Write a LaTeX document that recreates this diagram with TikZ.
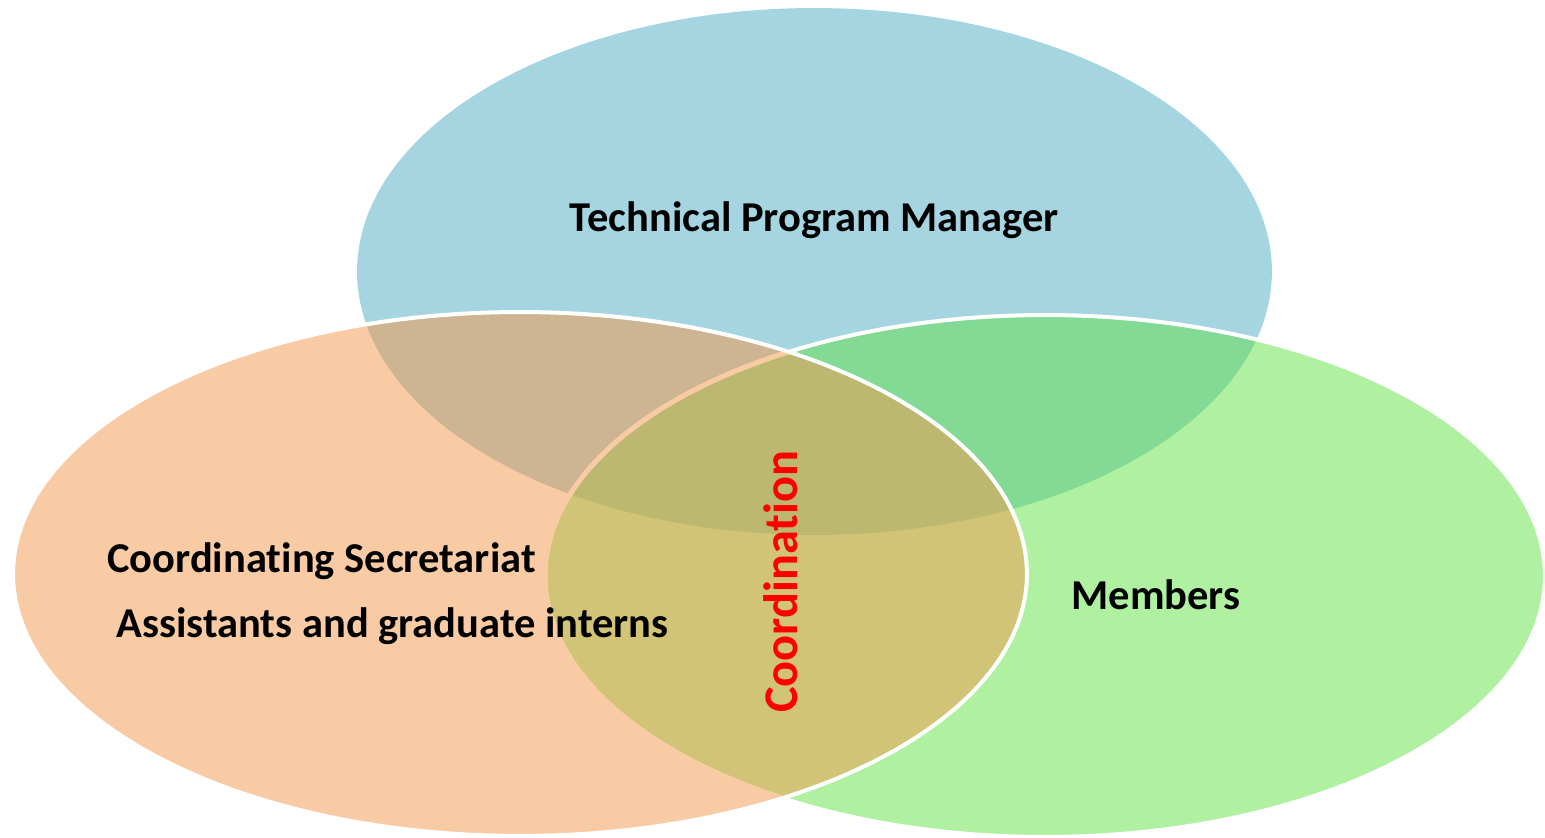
\documentclass[tikz,border=0pt]{standalone}
\usepackage{fontspec}
\setmainfont[RawFeature=-liga]{Carlito}
\definecolor{tpmblue}{HTML}{A6D5E2}
\definecolor{secorange}{HTML}{F9CBA5}
\definecolor{memgreen}{HTML}{B0F0A1}
\definecolor{blueorange}{HTML}{CDB594}
\definecolor{bluegreen}{HTML}{83DA94}
\definecolor{orangegreen}{HTML}{D2C477}
\definecolor{allthree}{HTML}{BCB870}
\def\tpmshape{(814.5,566.5) ellipse [x radius=9.15cm, y radius=5.27cm]}
\def\secshape{(520,264) ellipse [x radius=10.14cm, y radius=5.24cm]}
\def\memshape{(1045,262) ellipse [x radius=10cm, y radius=5.22cm]}

\begin{document}
\begin{tikzpicture}[x=0.02cm, y=0.02cm,
    lbl/.style={font=\bfseries\fontsize{24.2}{28}\selectfont, anchor=base, inner sep=0pt},
    rim/.style={draw=white, line width=0.08cm}]
  \useasboundingbox (0,0) rectangle (1545,838);

  % the three sets
  \fill[tpmblue] \tpmshape;
  \fill[secorange] \secshape;
  \fill[memgreen] \memshape;

  % overlaps
  \begin{scope}
    \clip \tpmshape;
    \fill[blueorange] \secshape;
    \fill[bluegreen] \memshape;
  \end{scope}
  \begin{scope}
    \clip \secshape;
    \fill[orangegreen] \memshape;
    \clip \tpmshape;
    \fill[allthree] \memshape;
  \end{scope}

  % outlines
  \draw[rim] \memshape;
  \begin{scope}
    \clip \secshape;
    \draw[secorange, line width=0.1cm] \memshape;
  \end{scope}
  \draw[rim] \secshape;

  % labels
  \node[lbl] (tpm) at (814.5,606) {Technical Program Manager};
  \node[lbl] (sec) at (321.5,265) {Coordinating Secretariat};
  \node[lbl] (interns) at (392.5,200) {Assistants and graduate interns};
  \node[lbl] (members) at (1156,228) {Members};
  \node[lbl, red, rotate=90, font=\bfseries\fontsize{27.5}{30}\selectfont] (coord) at (797,256) {Coordination};
\end{tikzpicture}
\end{document}
